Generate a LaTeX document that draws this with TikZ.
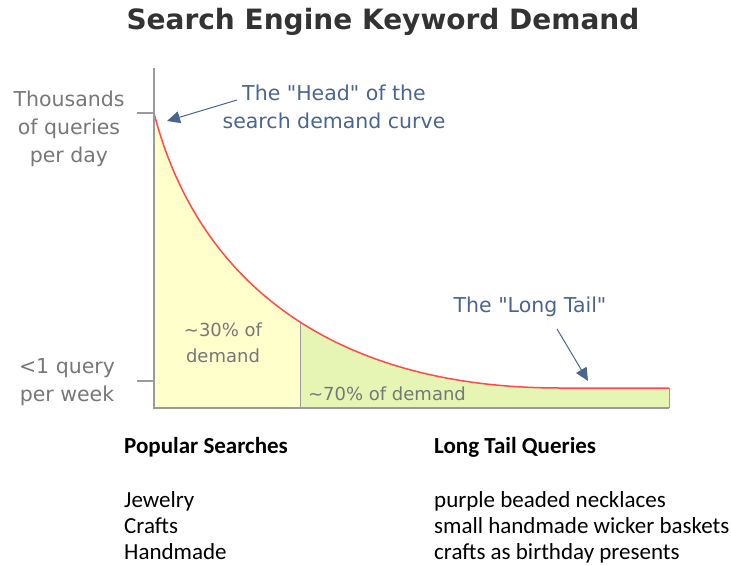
\documentclass[tikz,border=0pt]{standalone}
\usepackage{fontspec}
\setmainfont{DejaVu Sans}
\newfontfamily\calib{Carlito}
\usetikzlibrary{arrows.meta}
\definecolor{titlec}{HTML}{333333}
\definecolor{labc}{HTML}{777777}
\definecolor{bluec}{HTML}{4A6590}
\definecolor{curvec}{HTML}{FF4A4A}
\definecolor{axisc}{HTML}{9A9A9A}
\definecolor{yellowf}{HTML}{FFFFCC}
\definecolor{greenf}{HTML}{E6F5B3}
\tikzset{
  title/.style={font=\fontsize{28}{32}\selectfont\bfseries, text=titlec},
  axlab/.style={font=\fontsize{20.5}{28}\selectfont, text=labc, align=center, inner sep=0},
  blab/.style={font=\fontsize{20.5}{28}\selectfont, text=bluec, align=center, inner sep=0},
  glab/.style={font=\fontsize{18}{26}\selectfont, text=labc, align=center, inner sep=0},
  bot/.style={font=\calib\fontsize{23}{26}\selectfont, anchor=base west, inner sep=0},
  botb/.style={bot, font=\calib\fontsize{23}{26}\selectfont\bfseries},
  axisline/.style={draw=axisc, line width=1.3pt},
  thinline/.style={draw=axisc, line width=1pt},
  barrow/.style={draw=bluec, line width=1pt, -{Triangle[length=13pt,width=12pt]}},
}
\begin{document}
\begin{tikzpicture}[x=1pt,y=-1pt]
\useasboundingbox (0,0) rectangle (731,565);
\coordinate (head0) at (154,113);
\coordinate (flat0) at (560,388);
\coordinate (redge) at (669,388);
\coordinate (rbot) at (669,408);
\coordinate (orig) at (154,408);
\def\curvepath{(head0) .. controls (197,280) and (330,388) .. (flat0) -- (redge)}
% fills under the curve, with the divider
\begin{scope}
\clip \curvepath -- (rbot) -- (orig) -- cycle;
\fill[yellowf] (154,100) rectangle (300,408);
\fill[greenf] (300,100) rectangle (669,408);
\coordinate (divtop) at (300,300);
\coordinate (divbot) at (300,408);
\draw[thinline] (divtop) -- (divbot);
\end{scope}
\draw[thinline] (redge) -- (rbot);
% curve
\draw[curvec, line width=1.5pt] \curvepath;
% axes
\coordinate (ytop) at (154,68);
\coordinate (xend) at (669,408);
\draw[axisline] (ytop) -- (orig) -- (xend);
\coordinate (t1a) at (137,113); \coordinate (t1b) at (154,113);
\coordinate (t2a) at (137,381); \coordinate (t2b) at (154,381);
\draw[axisline] (t1a) -- (t1b);
\draw[axisline] (t2a) -- (t2b);
% title
\node[title] (ttl) at (383,22) {Search Engine Keyword Demand};
% axis labels
\node[axlab] (ylt) at (69,129) {Thousands\\of queries\\per day};
\node[axlab] (ylb) at (67,382) {<1 query\\per week};
% annotations
\node[blab] (head) at (334,107) {The \textquotedbl Head\textquotedbl{} of the\\search demand curve};
\coordinate (headst) at (237,100);
\coordinate (headtip) at (167,121);
\draw[barrow] (headst) -- (headtip);
\node[blab] (tail) at (530,307) {The \textquotedbl Long Tail\textquotedbl};
\coordinate (tailst) at (557,329);
\coordinate (tailtip) at (588,381);
\draw[barrow] (tailst) -- (tailtip);
% region labels
\node[glab] (p30) at (223,343) {\textasciitilde30\% of\\demand};
\node[glab] (p70) at (387,394) {\textasciitilde70\% of demand};
% bottom lists
\node[botb] (ps) at (124,453) {Popular Searches};
\node[botb] (lt) at (434,453) {Long Tail Queries};
\node[bot] (a1) at (124,507) {Jewelry};
\node[bot] (a2) at (124,533) {Crafts};
\node[bot] (a3) at (124,559) {Handmade};
\node[bot] (b1) at (434,507) {purple beaded necklaces};
\node[bot] (b2) at (434,533) {small handmade wicker baskets};
\node[bot] (b3) at (434,559) {crafts as birthday presents};
\end{tikzpicture}
\end{document}
